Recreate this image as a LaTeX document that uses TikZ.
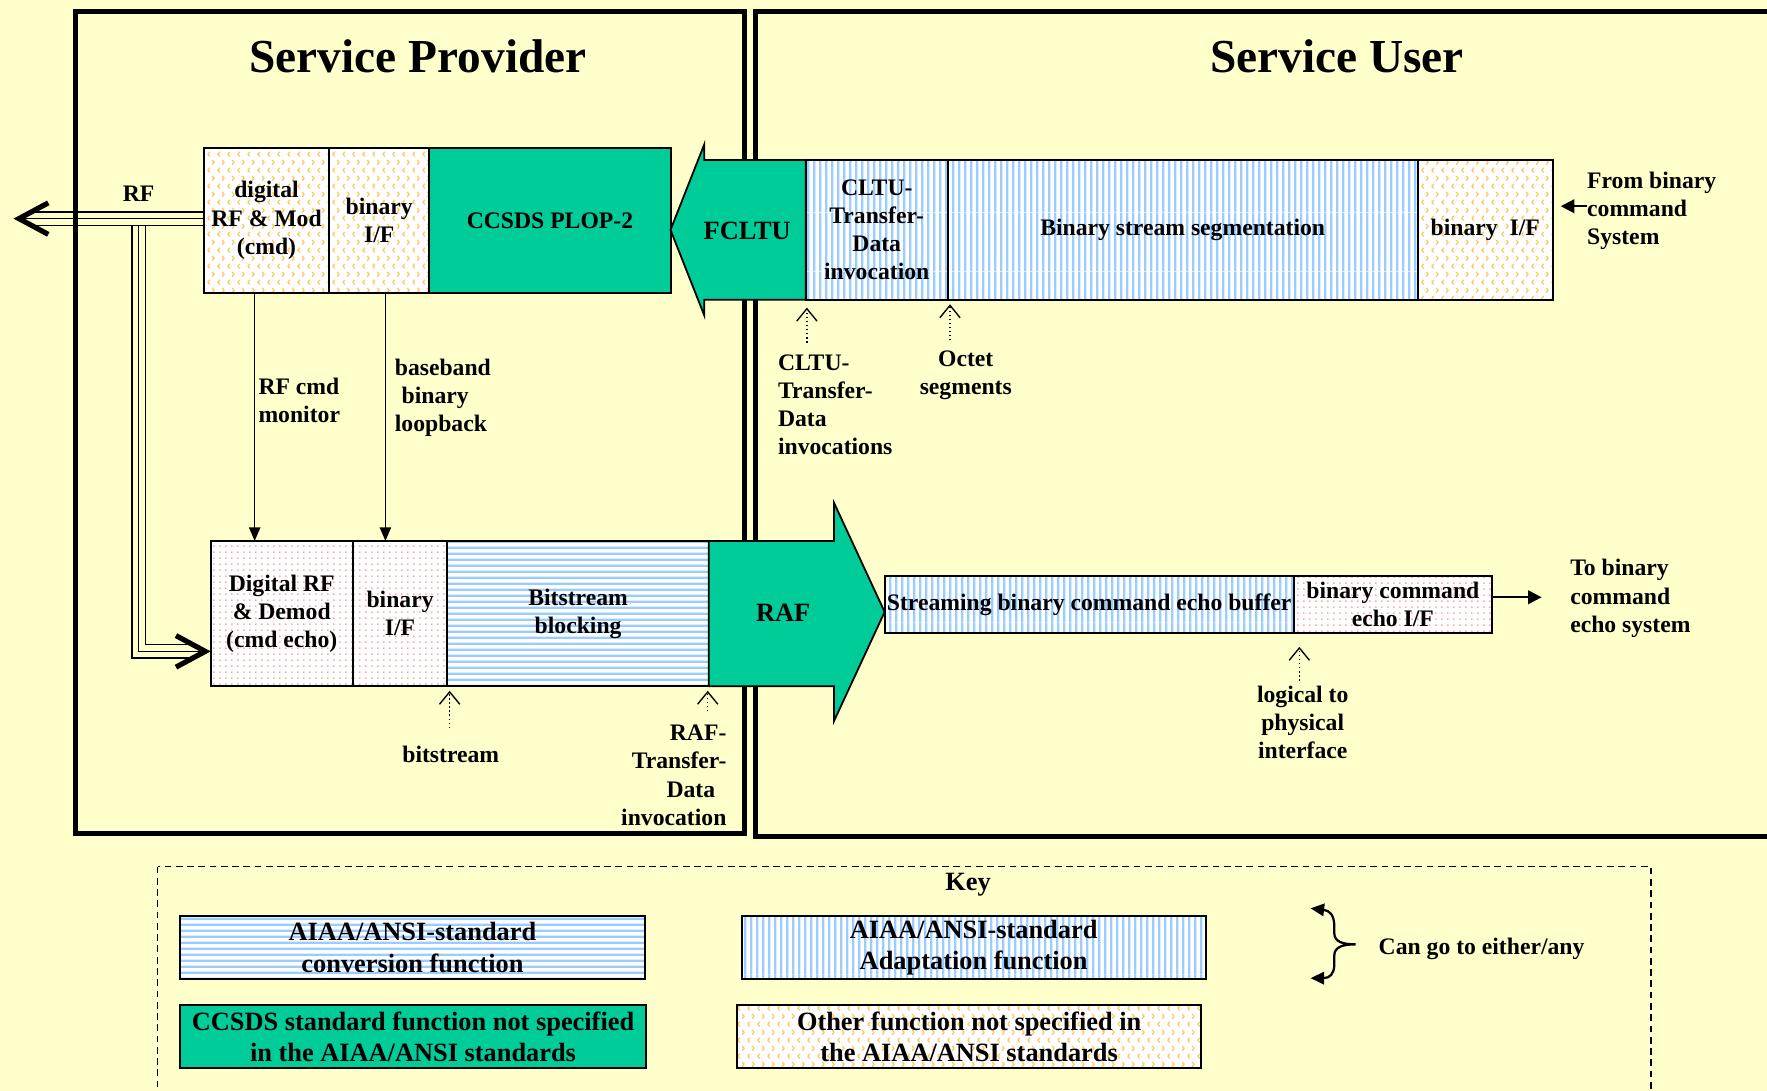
\documentclass[tikz,border=0pt]{standalone}
\usepackage{fontspec}
\setmainfont{Liberation Serif}
\usetikzlibrary{arrows.meta,patterns.meta,calc}

\definecolor{bgc}{RGB}{255,255,204}
\definecolor{ccsds}{RGB}{0,204,153}
\definecolor{stripe}{RGB}{153,204,255}
\definecolor{chev}{RGB}{255,200,100}
\definecolor{dotc}{RGB}{255,140,140}

% fill patterns of the function boxes
\tikzdeclarepattern{
  name=hstripes, type=colored,
  bottom left={(0pt,0pt)}, top right={(26pt,2.6pt)}, tile size={(26pt,2.6pt)},
  code={\fill[stripe] (0pt,0pt) rectangle (26pt,1.1pt);}
}
\tikzdeclarepattern{
  name=vstripes, type=colored,
  bottom left={(0pt,0pt)}, top right={(2.8pt,26pt)}, tile size={(2.8pt,26pt)},
  code={\fill[stripe] (0pt,0pt) rectangle (1.2pt,26pt);}
}
\tikzdeclarepattern{
  name=chevrons, type=colored,
  bottom left={(0pt,0pt)}, top right={(4.6pt,7pt)}, tile size={(4.6pt,7pt)},
  code={
    \draw[chev, line width=0.6pt, line cap=round, line join=round]
      (1.7pt,0.8pt) -- (0.9pt,1.75pt) -- (1.7pt,2.7pt);
    \draw[chev, line width=0.6pt, line cap=round, line join=round]
      (3.0pt,4.3pt) -- (3.8pt,5.25pt) -- (3.0pt,6.2pt);
  }
}
\tikzdeclarepattern{
  name=pinkdots, type=colored,
  bottom left={(0pt,0pt)}, top right={(2.6pt,2.6pt)}, tile size={(2.6pt,2.6pt)},
  code={\fill[dotc] (1.3pt,1.3pt) circle (0.4pt);}
}

\pgfdeclarelayer{paper}
\pgfdeclarelayer{under}
\pgfsetlayers{paper,under,main}

\tikzset{
  lbl/.style={font=\bfseries\fontsize{10.5}{12.5}\selectfont, inner sep=0pt, align=center},
  keytxt/.style={font=\bfseries\fontsize{11.7}{14}\selectfont},
  bigtxt/.style={font=\bfseries\fontsize{11.7}{14}\selectfont},
  ttl/.style={font=\bfseries\fontsize{21}{25}\selectfont, inner sep=0pt},
  sz/.style 2 args={minimum width={#1*0.5pt}, minimum height={#2*0.5pt}},
  fbox/.style={lbl, draw, line width=0.9pt, outer sep=0pt},
  obox/.style={fbox, preaction={fill=white}, pattern=chevrons},
  pbox/.style={fbox, preaction={fill=white}, pattern=pinkdots},
  hbox/.style={fbox, preaction={fill=white}, pattern=hstripes},
  vbox/.style={fbox, preaction={fill=white}, pattern=vstripes},
  gbox/.style={fbox, fill=ccsds},
  frame/.style={line width=2.2pt},
  bigarrow/.style={fill=ccsds, draw=black, line width=0.8pt, line join=miter},
  trio/.style={line width=0.75pt, double=bgc, double distance=5.25pt},
  trioc/.style={line width=0.75pt},
  bigbarb/.style={line width=0.75pt, -{Straight Barb[length=13pt,width=14pt,line width=2.3pt]}},
  thinarrow/.style={line width=0.6pt, -{Triangle[length=6pt,width=5pt]}},
  boldarrow/.style={line width=1pt, -{Triangle[length=6pt,width=6pt]}},
  annot/.style={line width=0.6pt, dash pattern=on 0.6pt off 1.2pt,
    -{Straight Barb[length=5.5pt,width=9pt,line width=0.6pt]}},
}

\begin{document}
\begin{tikzpicture}[x=0.5pt,y=-0.5pt]
\useasboundingbox (0,0) rectangle (1568,968);
\begin{pgfonlayer}{paper}
  \fill[bgc] (0,0) rectangle (1568,968);
\end{pgfonlayer}

% titles
\node[ttl] (provider) at (371,50) {Service Provider};
\node[ttl] (user) at (1186.5,50) {Service User};

% forward (command) chain
\node[obox, sz={111}{129}] (dmod) at (236.5,195.5) {digital\\RF \& Mod\\(cmd)};
\node[obox, sz={89}{129}] (tbif) at (336.5,195.5) {binary\\I/F};
\node[gbox, sz={214}{129}] (plop) at (488,195.5) {CCSDS PLOP-2};
\node[vbox, sz={126}{124}] (cltu) at (778,204) {CLTU-\\Transfer-\\Data\\invocation};
\node[vbox, sz={417}{124}] (seg) at (1049.5,204) {Binary stream segmentation};
\node[obox, sz={120}{124}] (ubif) at (1318,204) {binary\enspace I/F};

% FCLTU service arrow
\filldraw[bigarrow] (715,142) -- (625,142) -- (625,128) -- (595,204)
  -- (625,280) -- (625,266) -- (715,266) -- cycle;
\node[lbl, bigtxt] (fcltu) at (663,205) {FCLTU};

% return (echo) chain
\node[pbox, sz={126}{129}] (demod) at (250,544.5) {Digital RF\\\& Demod\\(cmd echo)};
\node[pbox, sz={84}{129}] (bbif) at (355,544.5) {binary\\I/F};
\node[hbox, sz={232}{129}] (blk) at (513,544.5) {Bitstream\\blocking};
\node[vbox, sz={363}{51}] (buf) at (966.5,536.5) {Streaming binary command echo buffer};
\node[pbox, sz={176}{51}] (echoif) at (1236,536.5) {binary command\\echo I/F};

% RAF service arrow
\filldraw[bigarrow] (629,480) -- (740,480) -- (740,446) -- (785,543)
  -- (740,640) -- (740,609) -- (629,609) -- cycle;
\node[lbl, bigtxt] (raf) at (695,544) {RAF};

% RF path: out of the modulator, looped back to the demodulator
\coordinate (rftip) at (12,194);
\coordinate (rfbk) at (30,194);
\coordinate (rfjoin) at (123,200.8);
\coordinate (rfturn) at (123,578);
\begin{pgfonlayer}{under}
  \draw[trio] (dmod.west |- rftip) -- (rfbk);
  \draw[trioc] (dmod.west |- rftip) -- (rfbk);
  \draw[bigbarb] ($(rftip)+(26,0)$) -- (rftip);
  \draw[trio] (rfjoin) |- ($(demod.west |- rfturn)+(-12,0)$);
  \draw[trioc] (rfjoin) |- ($(demod.west |- rfturn)+(-12,0)$);
  \draw[bigbarb] ($(demod.west |- rfturn)+(-26,0)$) -- (demod.west |- rfturn);
  % provider and user frames
  \draw[frame] (67,10) rectangle (661,740);
  \draw[frame] (670,10) rectangle (1640,742);
\end{pgfonlayer}
\node[lbl] (rflbl) at (123,172) {RF};

% monitoring and loopback links
\coordinate (monx) at (226,0);
\coordinate (loopx) at (342,0);
\draw[thinarrow] (dmod.south -| monx) -- (demod.north -| monx);
\draw[thinarrow] (tbif.south -| loopx) -- (bbif.north -| loopx);
\node[lbl, anchor=west, align=left] (monlbl) at (229,355) {RF cmd\\monitor};
\node[lbl, anchor=west, align=left] (looplbl) at (350,353) {baseband\\\kern3pt binary\\loopback};

% external interfaces
\coordinate (fromend) at (1385,183);
\coordinate (echoend) at (1368,530);
\node[lbl, anchor=west, align=left] (fromlbl) at (1408,187) {From binary\\command\\System};
\draw[boldarrow] (fromlbl.west |- fromend) -- (fromend);
\node[lbl, anchor=west, align=left] (tolbl) at (1393,531) {To binary\\command\\echo system};
\draw[boldarrow] (echoif.east |- echoend) -- (echoend);

% data unit annotations
\draw[annot] ($(cltu.south west)+(1,38)$) -- ($(cltu.south west)+(1,7)$);
\node[lbl, anchor=west, align=left] (cltulbl) at (690,359) {CLTU-\\Transfer-\\Data\\invocations};
\draw[annot] ($(seg.south west)+(2,36)$) -- ($(seg.south west)+(2,4)$);
\node[lbl] (octlbl) at (857,333) {Octet\\segments};
\draw[annot] ($(blk.south west)+(2,37)$) -- ($(blk.south west)+(2,4)$);
\node[lbl] (bitlbl) at (400,669) {bitstream};
\draw[annot] ($(blk.south east)+(-1,22)$) -- ($(blk.south east)+(-1,4)$);
\node[lbl, anchor=east, align=right] (raflbl) at (645,688) {RAF-\\Transfer-\\Data\kern5pt\\invocation};
\draw[annot] ($(buf.south east)+(5,42)$) -- ($(buf.south east)+(5,12)$);
\node[lbl] (loglbl) at (1156,641) {logical to\\physical\\interface};

% key
\draw[dash pattern=on 3pt off 2pt, line width=0.6pt] (140,769) rectangle (1465,995);
\node[lbl, keytxt] (keyttl) at (859,785) {Key};
\node[hbox, keytxt, sz={412}{56}] (k1) at (366,841) {AIAA/ANSI-standard\\conversion function};
\node[vbox, keytxt, sz={412}{56}] (k2) at (864,841) {AIAA/ANSI-standard\\Adaptation function};
\node[gbox, keytxt, sz={413}{56}] (k3) at (366.5,920) {CCSDS standard function not specified\\in the AIAA/ANSI standards};
\node[obox, keytxt, sz={412}{56}] (k4) at (860,920) {Other function not specified in\\the AIAA/ANSI standards};
\draw[line width=1pt, {Triangle[length=6pt,width=5.5pt]}-{Triangle[length=6pt,width=5.5pt]}]
  (1163,806) .. controls (1180,808) and (1184,812) .. (1184,822) -- (1184,828)
  .. controls (1184,836) and (1192,838) .. (1203,838)
  .. controls (1192,838) and (1184,840) .. (1184,848) -- (1184,856)
  .. controls (1184,864) and (1180,868) .. (1163,868);
\node[lbl, anchor=west] (anylbl) at (1223,842) {Can go to either/any};
\end{tikzpicture}
\end{document}
